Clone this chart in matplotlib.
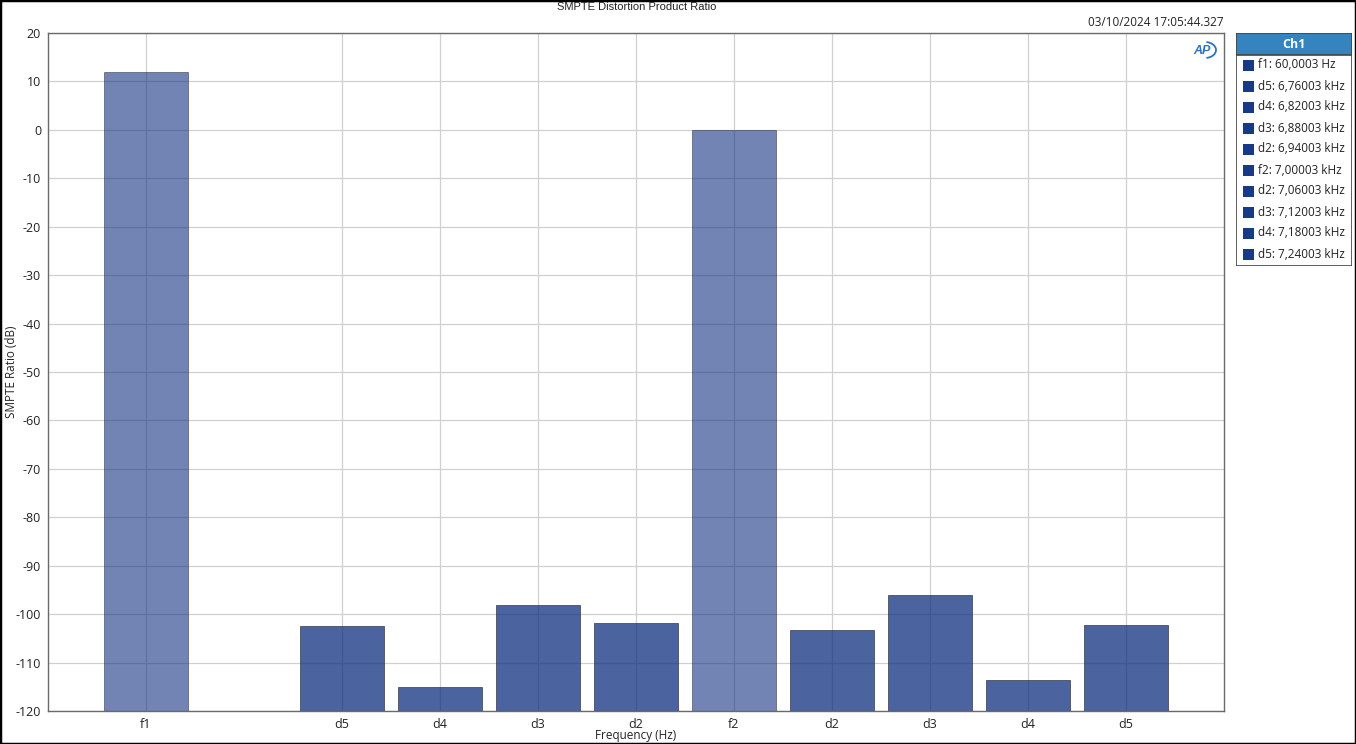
import matplotlib

matplotlib.use("Agg")
import matplotlib.pyplot as plt
from matplotlib.patches import Rectangle, Arc

plt.rcParams["font.family"] = ["Open Sans", "DejaVu Sans"]
plt.rcParams["axes.unicode_minus"] = False

# bar data: slot 1 is left empty between f1 and the sidebands
labels = ["f1", "d5", "d4", "d3", "d2", "f2", "d2", "d3", "d4", "d5"]
slots = [0, 2, 3, 4, 5, 6, 7, 8, 9, 10]
ratio_db = [12.0, -102.4, -115.0, -98.1, -101.8, 0.0, -103.3, -96.0, -113.6, -102.2]
is_fundamental = [True, False, False, False, False, True, False, False, False, False]
legend_labels = ["f1: 60,0003 Hz", "d5: 6,76003 kHz", "d4: 6,82003 kHz", "d3: 6,88003 kHz",
                 "d2: 6,94003 kHz", "f2: 7,00003 kHz", "d2: 7,06003 kHz", "d3: 7,12003 kHz",
                 "d4: 7,18003 kHz", "d5: 7,24003 kHz"]
yticks = list(range(-120, 21, 10))

C_BASE = "#0E2F7E"; C_GRID = "#d0d0d0"; C_SPINE = "#6a6a6a"; C_HEAD = "#3583bf"
W, H = 1356, 744

fig = plt.figure(figsize=(W / 100, H / 100), dpi=100)
fig.patch.set_facecolor("white")
fig.patches.append(Rectangle((0, 0), 1, 1, transform=fig.transFigure, fill=False,
                             edgecolor="black", lw=2.5, zorder=10))

ax = fig.add_axes([48 / W, 1 - 711 / H, 1176 / W, 678 / H])
ax.set_axisbelow(True)
ax.grid(True, color=C_GRID, lw=0.9)
bottom = -120
for x, v, f in zip(slots, ratio_db, is_fundamental):
    ax.bar(x, v - bottom, bottom=bottom, width=0.86, color=C_BASE, alpha=0.59 if f else 0.75,
           edgecolor="#2a2a3a", lw=0.6)
ax.set_xlim(-1, 11); ax.set_ylim(-120, 20)
ax.set_xticks(slots); ax.set_xticklabels(labels)
ax.set_yticks(yticks)
ax.tick_params(length=0, labelsize=9, colors="#222222", pad=5)
for s in ax.spines.values():
    s.set_color(C_SPINE); s.set_linewidth(1.0)
ax.set_xlabel("Frequency (Hz)", fontsize=8.5, color="#222222")
ax.set_ylabel("SMPTE Ratio (dB)", fontsize=8.5, color="#222222")
ax.yaxis.set_label_coords(-30 / 1176, 0.5)
ax.xaxis.set_label_coords(0.5, -18 / 678)

fig.text(637 / W, 1 - 7 / H, "SMPTE Distortion Product Ratio", ha="center", va="center",
         fontsize=8, family=["Liberation Sans", "DejaVu Sans"], color="#222222")
fig.text(1224 / W, 1 - 22 / H, "03/10/2024 17:05:44.327", ha="right", va="center",
         fontsize=8.5, color="#222222")

# AP logo
logo = fig.add_axes([1190 / W, 1 - 60 / H, 28 / W, 20 / H])
logo.set_xlim(0, 28); logo.set_ylim(20, 0); logo.axis("off")
logo.text(12, 10.5, "AP", ha="center", va="center", fontsize=9, style="italic",
          weight="bold", color="#2a73c2", family=["Liberation Sans", "DejaVu Sans"])
logo.add_patch(Arc((15, 10), 22, 16, theta1=-80, theta2=80, color="#2a73c2", lw=1.3))

# legend panel
lg = fig.add_axes([1236 / W, 1 - 266 / H, 116 / W, 233 / H])
lg.set_xlim(0, 116); lg.set_ylim(233, 0); lg.axis("off")
lg.add_patch(Rectangle((0, 0), 116, 233, facecolor="white", edgecolor="#444444", lw=1.2))
lg.add_patch(Rectangle((0, 0), 116, 22, facecolor=C_HEAD, edgecolor="#444444", lw=1.2))
lg.text(58, 11.5, "Ch1", ha="center", va="center", color="white", weight="bold", fontsize=9)
for i, lab in enumerate(legend_labels):
    y = 32 + 21 * i
    lg.add_patch(Rectangle((7, y - 5.5), 11, 11, facecolor="#163a85", edgecolor="none"))
    lg.text(22, y, lab, ha="left", va="center", fontsize=8.5, color="#222222")

fig.savefig("out.png", dpi=100)
